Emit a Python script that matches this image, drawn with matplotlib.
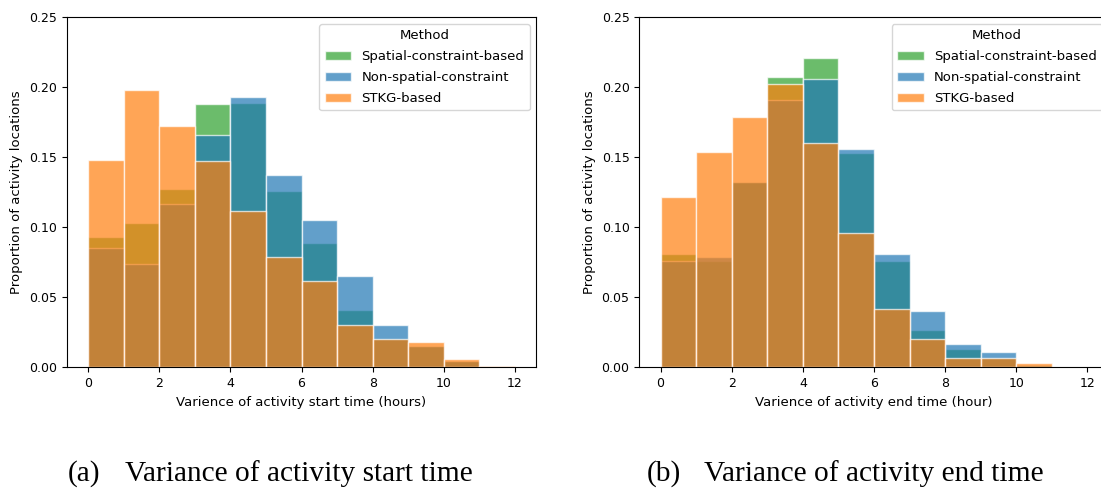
import numpy as np
import matplotlib
matplotlib.use("Agg")
import matplotlib.pyplot as plt

# bins: 1-hour wide, 0..12
bin_edges = np.arange(0, 13)
methods = ["Spatial-constraint-based", "Non-spatial-constraint", "STKG-based"]
colors = ["#2ca02c", "#1f77b4", "#ff7f0e"]

# (a) start time
start_spatial = [0.093, 0.103, 0.127, 0.188, 0.189, 0.126, 0.089, 0.041, 0.020, 0.015, 0.0045, 0.0003]
start_nonspatial = [0.085, 0.074, 0.117, 0.166, 0.193, 0.137, 0.105, 0.065, 0.030, 0.015, 0.0045, 0.0003]
start_stkg = [0.148, 0.198, 0.172, 0.147, 0.112, 0.079, 0.062, 0.030, 0.0205, 0.018, 0.006, 0.0012]

# (b) end time
end_spatial = [0.081, 0.0756, 0.132, 0.207, 0.221, 0.153, 0.076, 0.027, 0.013, 0.0066, 0.002, 0.0]
end_nonspatial = [0.0756, 0.0787, 0.132, 0.191, 0.206, 0.156, 0.081, 0.040, 0.017, 0.011, 0.002, 0.0004]
end_stkg = [0.122, 0.154, 0.179, 0.202, 0.160, 0.096, 0.042, 0.020, 0.007, 0.0064, 0.003, 0.0]

plt.rcParams["xtick.labelsize"] = 9
plt.rcParams["ytick.labelsize"] = 9
plt.rcParams["axes.labelsize"] = 9.5

fig = plt.figure(figsize=(11.01, 4.91), dpi=100)
ax1 = fig.add_axes([0.0606, 0.2519, 0.4265, 0.7129])
ax2 = fig.add_axes([0.5806, 0.2519, 0.4265, 0.7129])


def draw(ax, series, xlabel):
    left = bin_edges[:-1]
    for vals, c, name in zip(series, colors, methods):
        ax.bar(left, vals, width=1, align="edge", color=c, alpha=0.7,
               edgecolor="white", linewidth=1, label=name)
    ax.set_xlim(-0.6, 12.6)
    ax.set_ylim(0, 0.25)
    ax.set_yticks(np.arange(0, 0.26, 0.05))
    ax.set_xticks(np.arange(0, 13, 2))
    ax.set_xlabel(xlabel)
    ax.set_ylabel("Proportion of activity locations")
    ax.legend(title="Method", loc="upper right", fontsize=9.5,
              title_fontsize=9.5, labelspacing=0.6)


draw(ax1, [start_spatial, start_nonspatial, start_stkg],
     "Varience of activity start time (hours)")
draw(ax2, [end_spatial, end_nonspatial, end_stkg],
     "Varience of activity end time (hour)")

# captions under the panels
cap = dict(family="Liberation Serif", fontsize=21.2, va="center")
fig.text(68 / 1101, 0.036, "(a)", **cap)
fig.text(125 / 1101, 0.036, "Variance of activity start time", **cap)
fig.text(647 / 1101, 0.036, "(b)", **cap)
fig.text(704 / 1101, 0.036, "Variance of activity end time", **cap)

fig.savefig("out.png", dpi=100)
